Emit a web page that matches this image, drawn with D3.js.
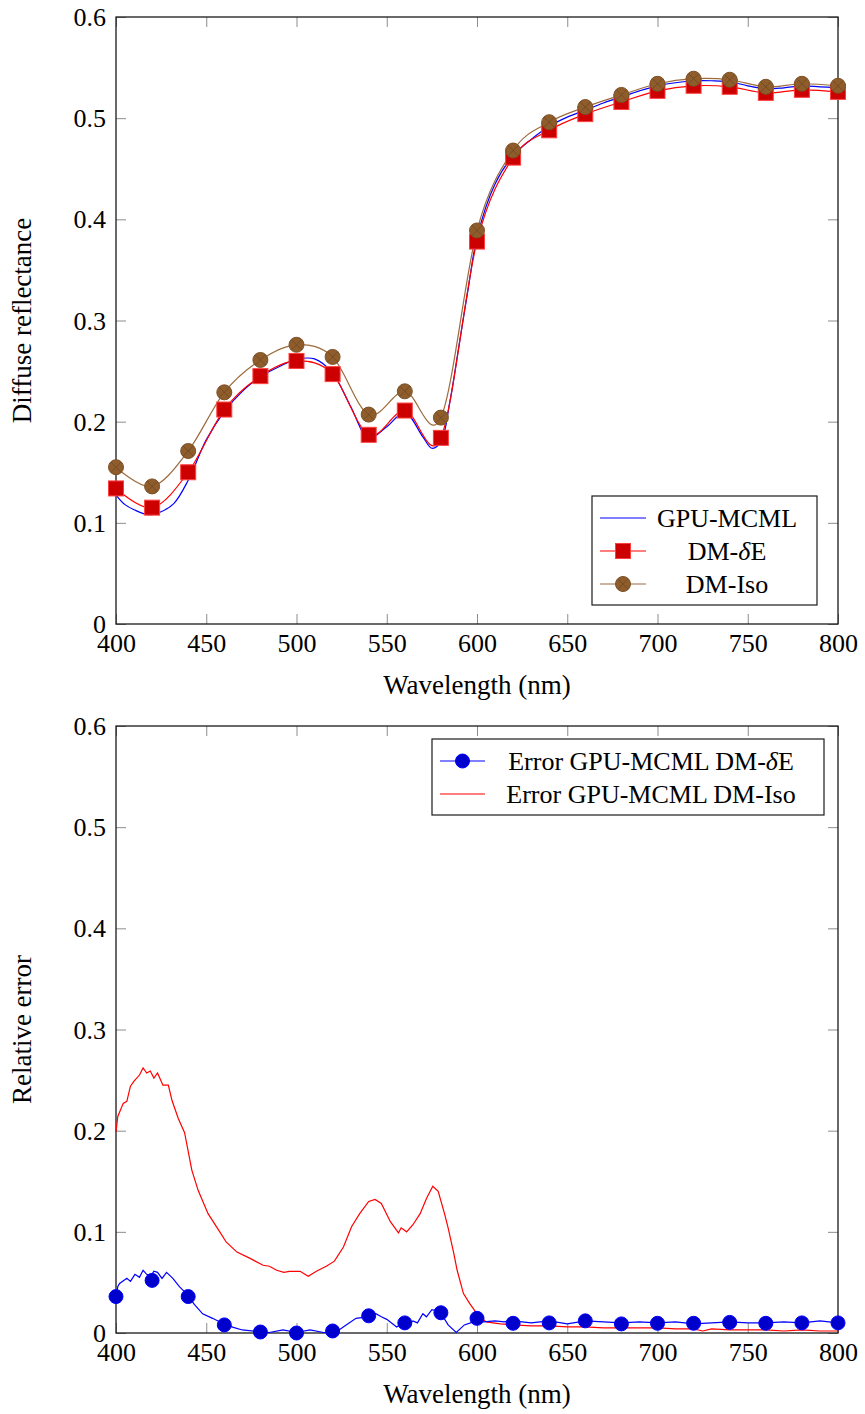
<!DOCTYPE html>
<html>
<head>
<meta charset="utf-8">
<script src="https://cdn.jsdelivr.net/npm/d3@7"></script>
<style>
  body { margin: 0; background: #fff; }
</style>
</head>
<body>
<div id="chart"></div>
<script>
// ---- data ----
const xTicks = [400, 450, 500, 550, 600, 650, 700, 750, 800];
const yTicks = [0, 0.1, 0.2, 0.3, 0.4, 0.5, 0.6];

// marker wavelengths (every 20 nm)
const markWl = [400, 420, 440, 460, 480, 500, 520, 540, 560, 580, 600,
                620, 640, 660, 680, 700, 720, 740, 760, 780, 800];

// top chart: diffuse reflectance
const dmDeltaE = [0.134, 0.115, 0.150, 0.212, 0.245, 0.260, 0.247, 0.187, 0.211, 0.184, 0.378,
                  0.461, 0.488, 0.504, 0.516, 0.527, 0.532, 0.531, 0.525, 0.528, 0.526];
const dmIso = [0.155, 0.136, 0.171, 0.229, 0.261, 0.276, 0.264, 0.207, 0.230, 0.204, 0.389,
               0.468, 0.496, 0.511, 0.523, 0.534, 0.539, 0.538, 0.531, 0.534, 0.532];

const gpuWl = [400, 405, 410, 418, 425, 432, 440, 450, 460, 470, 480, 490, 500, 510, 520, 530,
               540, 550, 560, 570, 575, 580, 585, 590, 595, 600, 610, 620, 630, 640, 650, 660,
               670, 680, 690, 700, 710, 720, 730, 740, 750, 760, 770, 780, 790, 800];
const gpuMcml = [0.1275, 0.118, 0.113, 0.108, 0.111, 0.119, 0.142, 0.182, 0.210, 0.230, 0.2445,
                 0.254, 0.2616, 0.262, 0.248, 0.215, 0.1835, 0.195, 0.209, 0.185, 0.1737, 0.180,
                 0.220, 0.275, 0.330, 0.382, 0.435, 0.463, 0.479, 0.492, 0.501, 0.508, 0.515,
                 0.521, 0.527, 0.532, 0.535, 0.537, 0.537, 0.536, 0.532, 0.529, 0.530, 0.532,
                 0.531, 0.530];

// bottom chart: relative error
const errIsoWl = [400, 401, 404, 406, 408, 410, 413, 415, 417, 419, 421, 423, 426, 429, 431,
                  434.5, 438, 442, 445.5, 451, 457.5, 461, 467, 474, 481.5, 485, 489, 493, 496,
                  502, 506.5, 511, 516.5, 521, 526, 530.5, 535, 540, 543.5, 547, 552, 556.5, 558,
                  561, 564.5, 568.5, 572, 575.5, 578.5, 582, 584, 587, 589, 592.5, 596, 600, 605,
                  613, 620, 630, 640, 650, 660, 670, 680, 690, 700, 710, 720, 725, 730, 740, 750,
                  760, 770, 780, 790, 800];
const errIso = [0.199, 0.214, 0.227, 0.229, 0.244, 0.249, 0.255, 0.262, 0.257, 0.259, 0.252,
                0.257, 0.245, 0.245, 0.230, 0.212, 0.198, 0.161, 0.141, 0.118, 0.100, 0.090,
                0.080, 0.074, 0.067, 0.066, 0.062, 0.060, 0.061, 0.061, 0.056, 0.061, 0.066,
                0.071, 0.085, 0.105, 0.118, 0.130, 0.132, 0.128, 0.110, 0.099, 0.104, 0.100,
                0.107, 0.118, 0.133, 0.145, 0.140, 0.118, 0.104, 0.080, 0.062, 0.039, 0.029,
                0.019, 0.011, 0.009, 0.008, 0.007, 0.007, 0.006, 0.006, 0.005, 0.005, 0.005,
                0.005, 0.004, 0.004, 0.002, 0.004, 0.003, 0.003, 0.003, 0.002, 0.003, 0.002,
                0.002];

const errDeltaWl = [400, 401, 402, 406, 408, 410.5, 413, 415, 417, 419.5, 421, 423, 425.5, 428,
                    431.5, 435, 439, 443.5, 448, 453.5, 459, 465, 470, 478, 485, 492.5, 500,
                    507.5, 515, 522, 527.5, 533, 539, 544, 547, 550, 555.5, 560, 562, 564.5, 567,
                    570, 572, 575, 579.5, 584, 588.5, 593, 598, 603.5, 610, 615, 620, 630, 640,
                    650, 660, 670, 680, 690, 700, 710, 720, 730, 740, 750, 760, 770, 780, 790, 800];
const errDelta = [0.036, 0.046, 0.049, 0.054, 0.051, 0.058, 0.055, 0.062, 0.058, 0.057, 0.061,
                  0.060, 0.054, 0.060, 0.054, 0.046, 0.039, 0.028, 0.019, 0.0145, 0.0096, 0.0056,
                  0.003, 0.0015, 0.0005, 0.003, 0.0005, 0.003, 0.0005, 0.001, 0.008, 0.0145,
                  0.016, 0.019, 0.016, 0.0135, 0.006, 0.011, 0.008, 0.012, 0.010, 0.019, 0.016,
                  0.023, 0.021, 0.008, 0.0005, 0.008, 0.011, 0.011, 0.012, 0.011, 0.012, 0.010,
                  0.012, 0.009, 0.012, 0.011, 0.010, 0.011, 0.010, 0.011, 0.009, 0.010, 0.011,
                  0.010, 0.010, 0.011, 0.010, 0.012, 0.010];
const errDeltaMarks = [0.036, 0.052, 0.036, 0.008, 0.001, 0.000, 0.002, 0.017, 0.010, 0.020,
                       0.0145, 0.0096, 0.010, 0.012, 0.009, 0.0096, 0.0096, 0.0105, 0.0096,
                       0.010, 0.010];

// ---- layout ----
const width = 865, height = 1414;
const left = 116, right = 838;
const FONT = "'Liberation Serif', 'DejaVu Serif', serif";

const svg = d3.select('#chart').append('svg')
    .attr('width', width)
    .attr('height', height)
    .attr('font-family', FONT);

const xScale = d3.scaleLinear().domain([400, 800]).range([left, right]);

function drawFrame(top, bottom, yLabel) {
    const yScale = d3.scaleLinear().domain([0, 0.6]).range([bottom, top]);
    const g = svg.append('g');

    // ticks pointing inward on all four sides
    const styleTicks = sel => {
        sel.attr('font-family', FONT);
        sel.select('.domain').remove();
        sel.selectAll('.tick line').attr('stroke', '#8c8c8c').attr('stroke-width', 1);
        sel.selectAll('.tick text')
            .attr('fill', '#000')
            .style('font-family', FONT)
            .style('font-size', '26px');
    };
    g.append('g').attr('transform', `translate(${left},0)`)
        .call(d3.axisLeft(yScale).tickValues(yTicks).tickSize(-10).tickPadding(10).tickFormat(d3.format('')))
        .call(styleTicks)
        .selectAll('.tick text').attr('dy', '0.33em');
    g.append('g').attr('transform', `translate(${right},0)`)
        .call(d3.axisRight(yScale).tickValues(yTicks).tickSize(-10).tickFormat(''))
        .call(styleTicks);
    g.append('g').attr('transform', `translate(0,${bottom})`)
        .call(d3.axisBottom(xScale).tickValues(xTicks).tickSize(-10).tickPadding(9).tickFormat(d3.format('')))
        .call(styleTicks)
        .selectAll('.tick text').attr('dy', '0.72em');
    g.append('g').attr('transform', `translate(0,${top})`)
        .call(d3.axisTop(xScale).tickValues(xTicks).tickSize(-10).tickFormat(''))
        .call(styleTicks);

    g.append('rect')
        .attr('x', left).attr('y', top)
        .attr('width', right - left).attr('height', bottom - top)
        .attr('fill', 'none').attr('stroke', '#1a1a1a').attr('stroke-width', 1.3);

    // axis titles
    svg.append('text')
        .attr('x', (left + right) / 2).attr('y', bottom + 70)
        .attr('text-anchor', 'middle')
        .style('font-family', FONT)
        .style('font-size', '27px')
        .text('Wavelength (nm)');
    svg.append('text')
        .attr('transform', `translate(31,${(top + bottom) / 2}) rotate(-90)`)
        .attr('text-anchor', 'middle')
        .style('font-family', FONT)
        .style('font-size', '27px')
        .text(yLabel);

    return yScale;
}

function square(g, x, y) {
    g.append('rect')
        .attr('x', x - 7.5).attr('y', y - 7.5)
        .attr('width', 15).attr('height', 15)
        .attr('fill', '#cc0000').attr('stroke', '#ff4040').attr('stroke-width', 1);
}

function otimes(g, x, y) {
    const r = 7.5;
    g.append('circle').attr('cx', x).attr('cy', y).attr('r', r)
        .attr('fill', '#8f5d2c').attr('stroke', '#7d5026').attr('stroke-width', 1);
    const d = r * 0.68;
    g.append('path')
        .attr('d', `M${x - d},${y - d}L${x + d},${y + d}M${x - d},${y + d}L${x + d},${y - d}`)
        .attr('stroke', '#6a4420').attr('stroke-width', 0.7);
}

function dot(g, x, y) {
    g.append('circle').attr('cx', x).attr('cy', y).attr('r', 7)
        .attr('fill', '#0000cc').attr('stroke', '#0000ff').attr('stroke-width', 1);
}

function legend(x, y, w, h, items, sampleW, textX) {
    const g = svg.append('g');
    g.append('rect').attr('x', x).attr('y', y).attr('width', w).attr('height', h)
        .attr('fill', '#fff').attr('stroke', '#1a1a1a').attr('stroke-width', 1.2);
    items.forEach((it, i) => {
        const cy = y + 22 + i * 33;
        g.append('line')
            .attr('x1', x + 8).attr('x2', x + 8 + sampleW)
            .attr('y1', cy).attr('y2', cy)
            .attr('stroke', it.color).attr('stroke-width', 1.2);
        if (it.mark) it.mark(g, x + 8 + sampleW / 2, cy);
        g.append('text')
            .attr('x', textX).attr('y', cy).attr('dy', '0.33em')
            .attr('text-anchor', 'middle')
            .style('font-family', FONT)
            .style('font-size', '26px')
            .html(it.label);
    });
}

// ---- top chart ----
const yTop = drawFrame(17, 624, 'Diffuse reflectance');

const plotTop = svg.append('g');

plotTop.append('path')
    .attr('d', d3.line().curve(d3.curveCatmullRom)(gpuWl.map((w, i) => [xScale(w), yTop(gpuMcml[i])])))
    .attr('fill', 'none').attr('stroke', '#0000ff').attr('stroke-width', 1.2);

const smooth = d3.line().curve(d3.curveCardinal.tension(0));
plotTop.append('path')
    .attr('d', smooth(markWl.map((w, i) => [xScale(w), yTop(dmDeltaE[i])])))
    .attr('fill', 'none').attr('stroke', '#ff0000').attr('stroke-width', 1.2);
plotTop.append('path')
    .attr('d', smooth(markWl.map((w, i) => [xScale(w), yTop(dmIso[i])])))
    .attr('fill', 'none').attr('stroke', '#9c6b3c').attr('stroke-width', 1.2);

markWl.forEach((w, i) => square(plotTop, xScale(w), yTop(dmDeltaE[i])));
markWl.forEach((w, i) => otimes(plotTop, xScale(w), yTop(dmIso[i])));

legend(592, 496, 225, 109, [
    { label: 'GPU-MCML', color: '#0000ff' },
    { label: 'DM-<tspan font-style="italic">δ</tspan>E', color: '#ff0000', mark: square },
    { label: 'DM-Iso', color: '#9c6b3c', mark: otimes }
], 46, 727);

// ---- bottom chart ----
const yBot = drawFrame(726, 1333, 'Relative error');
const plotBot = svg.append('g');
const line = d3.line();

plotBot.append('path')
    .attr('d', line(errIsoWl.map((w, i) => [xScale(w), yBot(errIso[i])])))
    .attr('fill', 'none').attr('stroke', '#ff0000').attr('stroke-width', 1.2);
plotBot.append('path')
    .attr('d', line(errDeltaWl.map((w, i) => [xScale(w), yBot(errDelta[i])])))
    .attr('fill', 'none').attr('stroke', '#0000ff').attr('stroke-width', 1.2);
markWl.forEach((w, i) => dot(plotBot, xScale(w), yBot(errDeltaMarks[i])));

legend(432, 739, 392, 76, [
    { label: 'Error GPU-MCML DM-<tspan font-style="italic">δ</tspan>E', color: '#0000ff', mark: dot },
    { label: 'Error GPU-MCML DM-Iso', color: '#ff0000' }
], 45, 651);
</script>
</body>
</html>
